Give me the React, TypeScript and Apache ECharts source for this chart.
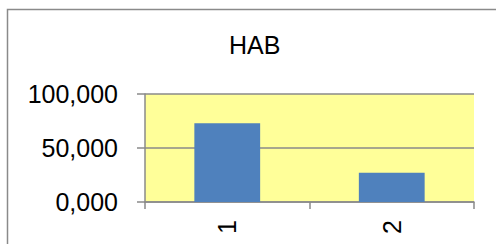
import React, { useEffect, useRef } from "react";
import * as echarts from "echarts";

const categories = ["1", "2"];
const habValues = [73, 27];
const yTicks = [0, 50, 100];
const chartTitle = "HAB";

export default function App() {
  const ref = useRef<HTMLDivElement>(null);
  useEffect(() => {
    if (!ref.current) return;
    const chart = echarts.init(ref.current, undefined, { renderer: "svg" });
    const font = "'Liberation Sans', Arial, sans-serif";
    chart.setOption({
      animation: false,
      backgroundColor: "#ffffff",
      title: {
        text: chartTitle,
        left: 229,
        top: 32,
        padding: 0,
        textStyle: { fontFamily: font, fontSize: 25, fontWeight: "normal", color: "#000" },
      },
      graphic: [
        {
          type: "rect",
          shape: { x: 7.5, y: 9.5, width: 700, height: 400 },
          style: { fill: "none", stroke: "#8a8a8a", lineWidth: 1.5 },
          z: 100,
        },
      ],
      grid: {
        left: 145,
        right: 22,
        top: 94,
        bottom: 42,
        show: true,
        backgroundColor: "#FFFF99",
        borderWidth: 0,
      },
      xAxis: {
        type: "category",
        data: categories,
        axisLine: { show: true, lineStyle: { color: "#8a8a8a", width: 1.5 } },
        axisTick: { show: true, length: 7, lineStyle: { color: "#8a8a8a", width: 1.5 } },
        axisLabel: {
          rotate: 90,
          margin: 18,
          fontFamily: font,
          fontSize: 25,
          color: "#000",
        },
      },
      yAxis: {
        type: "value",
        min: yTicks[0],
        max: yTicks[yTicks.length - 1],
        interval: yTicks[1] - yTicks[0],
        axisLine: { show: true, lineStyle: { color: "#8a8a8a", width: 1.5 } },
        axisTick: { show: true, length: 8, lineStyle: { color: "#8a8a8a", width: 1.5 } },
        splitLine: { show: true, lineStyle: { color: "#8a8a8a", width: 1.5 } },
        axisLabel: {
          margin: 27,
          fontFamily: font,
          fontSize: 25,
          color: "#000",
          formatter: (v: number) => v.toFixed(3).replace(".", ","),
        },
      },
      series: [
        {
          type: "bar",
          data: habValues,
          barCategoryGap: "60%",
          itemStyle: { color: "#4F81BD" },
        },
      ],
    });
    return () => chart.dispose();
  }, []);
  return (
    <div
      ref={ref}
      style={{ position: "fixed", left: 0, top: 0, width: 496, height: 244 }}
    />
  );
}
